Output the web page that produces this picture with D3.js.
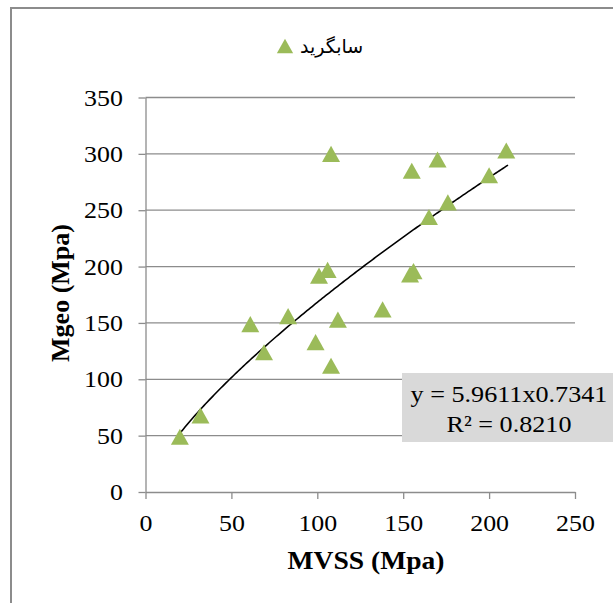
<!DOCTYPE html>
<html>
<head>
<meta charset="utf-8">
<script src="https://cdn.jsdelivr.net/npm/d3@7"></script>
<style>
  html, body { margin: 0; padding: 0; background: #fff; }
  svg { display: block; }
</style>
</head>
<body>
<div id="chart"></div>
<script>
// MVSS vs Mgeo scatter with power trendline

const mvss = [20, 32, 61, 69, 83, 99, 101, 106, 108, 108, 112, 138, 154, 156, 155, 170, 165, 176, 200, 210];
const mgeo = [49, 68, 149, 124, 156, 133, 192, 197, 300, 112, 153, 162, 193, 196, 285, 295, 244, 257, 281, 303];
const xTicks = [0, 50, 100, 150, 200, 250];
const yTicks = [0, 50, 100, 150, 200, 250, 300, 350];
const seriesName = 'سابگرید';
const eqLines = ['y = 5.9611x0.7341', 'R² = 0.8210'];
// drawn power trendline y = a * x^b
const trendA = 5.85, trendB = 0.7294;
const trendRange = [20, 211];

const W = 613, H = 603;
const GRID = '#8c8c8c';
const GREEN = '#9bbb59';
const SERIF = '"Liberation Serif", "Times New Roman", serif';

const svg = d3.select('#chart').append('svg')
    .attr('width', W).attr('height', H);

svg.append('rect').attr('width', W).attr('height', H).attr('fill', '#fff');

// chart frame (only left/top visible)
svg.append('rect')
    .attr('x', 11).attr('y', 8).attr('width', 640).attr('height', 640)
    .attr('fill', 'none').attr('stroke', GRID).attr('stroke-width', 2);

const x = d3.scaleLinear().domain([0, 250]).range([145.5, 575]);
const y = d3.scaleLinear().domain([0, 350]).range([492, 97.5]);

// horizontal gridlines
svg.append('g').selectAll('line').data(yTicks.slice(1)).join('line')
    .attr('x1', x(0)).attr('x2', x(250))
    .attr('y1', d => y(d)).attr('y2', d => y(d))
    .attr('stroke', GRID).attr('stroke-width', 1.3);

const xAxis = svg.append('g').attr('transform', `translate(0,${y(0)})`)
    .call(d3.axisBottom(x).tickValues(xTicks).tickSize(7).tickSizeOuter(0));
const yAxis = svg.append('g').attr('transform', `translate(${x(0)},0)`)
    .call(d3.axisLeft(y).tickValues(yTicks).tickSize(7).tickSizeOuter(0));

[xAxis, yAxis].forEach(a => {
    a.select('.domain').attr('stroke', GRID).attr('stroke-width', 1.3);
    a.selectAll('.tick line').attr('stroke', GRID).attr('stroke-width', 1.3);
    a.selectAll('.tick text')
        .attr('font-family', SERIF).attr('font-size', 24).attr('fill', '#000');
});
xAxis.selectAll('.tick text').attr('y', 39).attr('dy', 0)
    .attr('transform', 'scale(1.08,1)');
yAxis.selectAll('.tick text').attr('x', -21).attr('dy', '0.32em')
    .attr('transform', 'scale(1.08,1)');

// trendline
const tx = d3.range(trendRange[0], trendRange[1] + 0.5, 1);
const line = d3.line().x(d => x(d)).y(d => y(trendA * Math.pow(d, trendB)));
svg.append('path').datum(tx)
    .attr('d', line)
    .attr('fill', 'none').attr('stroke', '#000').attr('stroke-width', 1.6);

// triangle marker, centred on its bounding box
const tri = {
    draw(ctx, size) {
        const w = Math.sqrt(size) * 1.4, h = w * 0.9;
        ctx.moveTo(0, -h / 2);
        ctx.lineTo(w / 2, h / 2);
        ctx.lineTo(-w / 2, h / 2);
        ctx.closePath();
    }
};
const marker = d3.symbol().type(tri).size(165);

svg.append('g').selectAll('path').data(d3.zip(mvss, mgeo)).join('path')
    .attr('transform', d => `translate(${x(d[0])},${y(d[1])})`)
    .attr('d', marker)
    .attr('fill', GREEN);

// trendline label
const box = svg.append('g');
box.append('rect')
    .attr('x', 402).attr('y', 373).attr('width', 216).attr('height', 69)
    .attr('fill', '#d9d9d9');
box.selectAll('text').data(eqLines).join('text')
    .attr('transform', (d, i) => `translate(509,${401.5 + i * 30}) scale(1.09,1)`)
    .attr('text-anchor', 'middle')
    .attr('font-family', SERIF).attr('font-size', 24).attr('fill', '#000')
    .text(d => d);

// axis titles
svg.append('text')
    .attr('transform', 'translate(366,569) scale(1.06,1)')
    .attr('text-anchor', 'middle')
    .attr('font-family', SERIF).attr('font-size', 26).attr('font-weight', 'bold')
    .text('MVSS (Mpa)');
svg.append('text')
    .attr('transform', 'translate(69,293) rotate(-90)')
    .attr('text-anchor', 'middle')
    .attr('font-family', SERIF).attr('font-size', 26).attr('font-weight', 'bold')
    .text('Mgeo (Mpa)');

// legend
svg.append('path')
    .attr('transform', 'translate(285,46)')
    .attr('d', d3.symbol().type(tri).size(135))
    .attr('fill', GREEN);
svg.append('text')
    .attr('x', 300).attr('y', 46).attr('dy', '0.35em')
    .attr('font-family', '"DejaVu Sans", sans-serif').attr('font-size', 19)
    .attr('fill', '#000')
    .text(seriesName);
</script>
</body>
</html>
